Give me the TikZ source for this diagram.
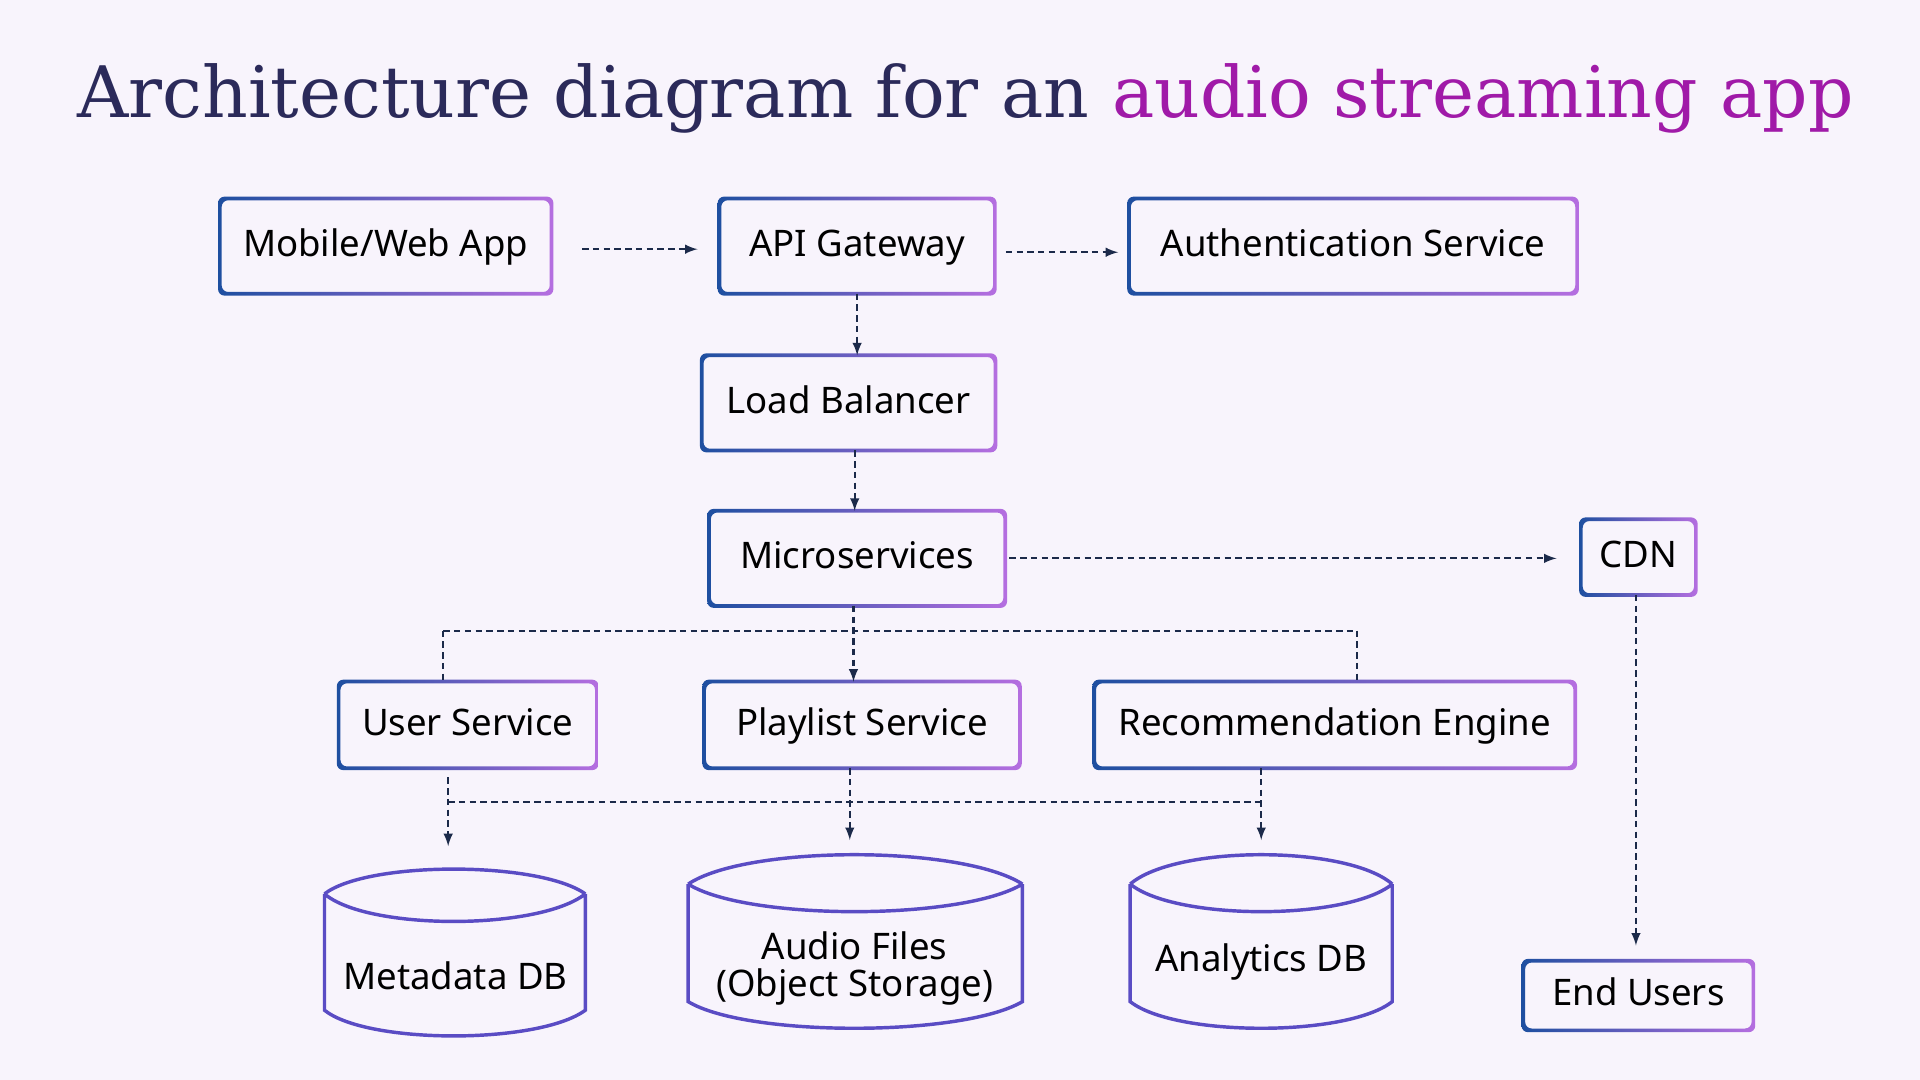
\documentclass[tikz,border=0pt]{standalone}
\usepackage{fontspec}
\setmainfont{Noto Sans}
\newfontfamily\titlefont{DejaVu Serif}
\usetikzlibrary{positioning}
\definecolor{bgcol}{HTML}{F8F4FC}
\definecolor{bblue}{HTML}{1E4FA0}
\definecolor{bpurple}{HTML}{B56EE0}
\definecolor{cylcol}{HTML}{5A4CC4}
\definecolor{arrcol}{HTML}{1C2A4A}
\definecolor{navy}{HTML}{2B2A5A}
\definecolor{magenta}{HTML}{A01AA8}
\tikzset{
  box/.style={minimum height=77*0.02cm, inner sep=0pt, text height=13pt, text depth=3.5pt,
    font=\fontsize{17}{20}\selectfont, text=black},
  arr/.style={draw=arrcol, dash pattern=on 3pt off 2pt, line width=1pt, -latex},
  bus/.style={draw=arrcol, dash pattern=on 3pt off 2pt, line width=1pt},
  cyl/.style={draw=cylcol, line width=1.6pt},
  lbl/.style={font=\fontsize{17}{19}\selectfont, align=center, text=black}
}
\begin{document}
\begin{tikzpicture}[x=0.02cm, y=-0.02cm]
\fill[bgcol] (0,0) rectangle (1568,882);

% title
\node[anchor=west, font=\titlefont\fontsize{33}{40}\selectfont] (title) at (57,80)
  {\textcolor{navy}{Architecture diagram for an} \textcolor{magenta}{audio streaming app}};

% boxes
\node[box, minimum width=270*0.02cm] (mob) at (315,201) {Mobile/Web App};
\node[box, minimum width=224*0.02cm] (api) at (700,201) {API Gateway};
\node[box, minimum width=365*0.02cm] (auth) at (1105,201) {Authentication Service};
\node[box, minimum width=239*0.02cm] (lb) at (693,329) {Load Balancer};
\node[box, minimum width=241*0.02cm] (micro) at (700,456) {Microservices};
\node[box, minimum width=93*0.02cm, minimum height=61*0.02cm] (cdn) at (1338,455) {CDN};
\node[box, minimum width=210*0.02cm, minimum height=70*0.02cm] (user) at (382,592) {User Service};
\node[box, minimum width=257*0.02cm, minimum height=70*0.02cm] (play) at (704,592) {Playlist Service};
\node[box, minimum width=392*0.02cm, minimum height=70*0.02cm] (rec) at (1090,592) {Recommendation Engine};
\node[box, minimum width=187*0.02cm, minimum height=56*0.02cm] (end) at (1338,813) {End Users};

\foreach \n in {mob,api,auth,lb,micro,cdn,user,play,rec,end}
  \shade[left color=bblue, right color=bpurple, even odd rule, rounded corners=3pt]
    ([shift={(-0.9pt,-0.9pt)}]\n.south west) rectangle ([shift={(0.9pt,0.9pt)}]\n.north east)
    ([shift={(0.8pt,0.8pt)}]\n.south west) rectangle ([shift={(-0.8pt,-0.8pt)}]\n.north east);

% databases
\draw[cyl] (265,730) .. controls (300,703) and (440,703) .. (478,730)
  (265,730) .. controls (300,760) and (440,760) .. (478,730)
  (265,730) -- (265,825) .. controls (300,853) and (440,853) .. (478,825) -- (478,730);
\draw[cyl] (562,722) .. controls (610,690) and (785,690) .. (835,722)
  (562,722) .. controls (610,752) and (785,752) .. (835,722)
  (562,722) -- (562,818) .. controls (610,847) and (785,847) .. (835,818) -- (835,722);
\draw[cyl] (923,722) .. controls (960,690) and (1100,690) .. (1137,722)
  (923,722) .. controls (960,752) and (1100,752) .. (1137,722)
  (923,722) -- (923,818) .. controls (960,847) and (1100,847) .. (1137,818) -- (1137,722);
\node[lbl] (meta) at (372,797) {Metadata DB};
\node[lbl, font=\fontsize{17}{17}\selectfont] (audio) at (698,791) {Audio Files\\(Object Storage)};
\node[lbl] (ana) at (1030,786) {Analytics DB};
\coordinate (metatop) at (366,691);
\coordinate (audiotop) at (694,686);
\coordinate (anatop) at (1030,686);

% connectors
\draw[arr, shorten <=25*0.02cm, shorten >=18*0.02cm] ([yshift=-0.05cm]mob.east) -- ([yshift=-0.05cm]mob.east -| api.west);
\draw[arr, shorten <=9*0.02cm, shorten >=9*0.02cm] ([yshift=-0.1cm]api.east) -- ([yshift=-0.1cm]api.east -| auth.west);
\draw[arr] (api.south) -- (lb.north -| api.south);
\draw[arr] (lb.south -| 698,0) -- (micro.north -| 698,0);
\draw[arr, shorten <=2pt, shorten >=20*0.02cm] (micro.east) -- (micro.east -| cdn.west);
\draw[arr] (cdn.south -| 1336,0) -- ([yshift=0.25cm]end.north -| 1336,0);

\coordinate (b1) at (697,515);
\draw[arr] (micro.south -| b1) -- (play.north -| b1);
\draw[bus] (362,515) -- (1108,515);
\draw[bus] (362,515) -- (user.north -| 362,0);
\draw[bus] (1108,515) -- (rec.north -| 1108,0);

\coordinate (b2) at (366,655);
\draw[bus] (b2) -- (1030,655);
\draw[arr] ([yshift=-0.15cm]user.south -| b2) -- (metatop);
\draw[arr] (play.south -| audiotop) -- (audiotop);
\draw[arr] (rec.south -| anatop) -- (anatop);
\end{tikzpicture}
\end{document}
